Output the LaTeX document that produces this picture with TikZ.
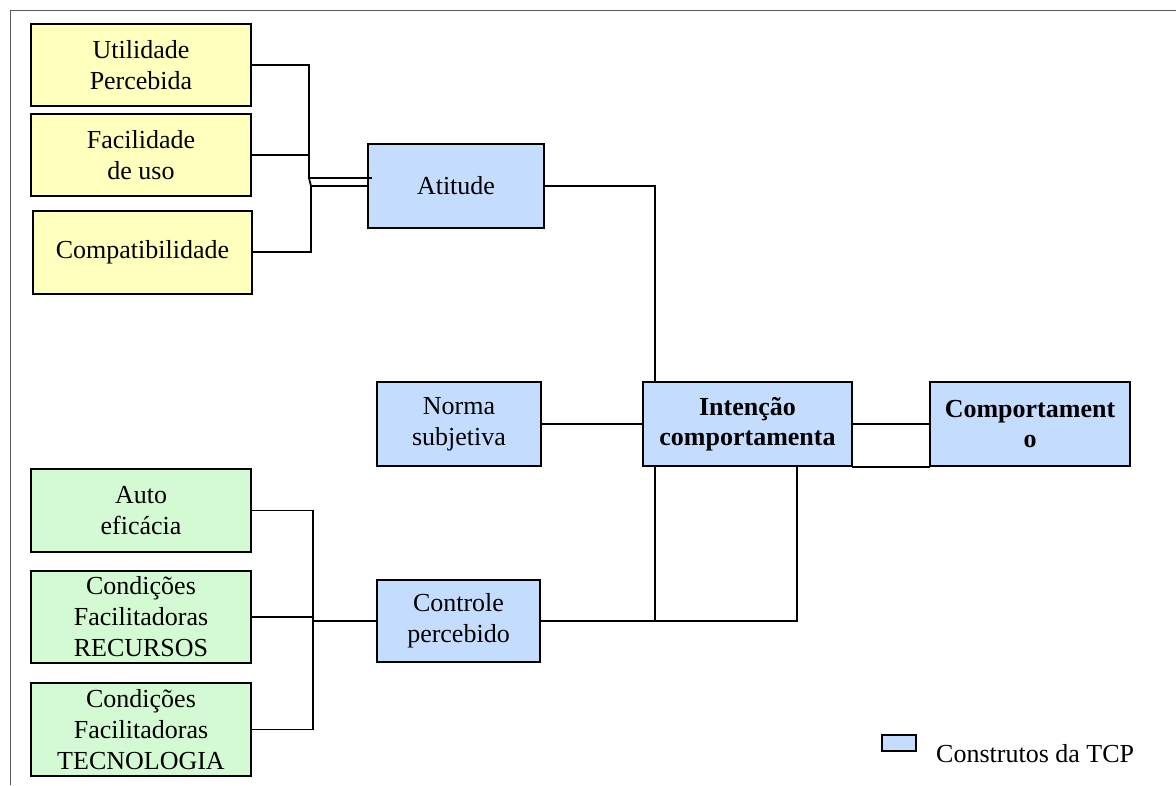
\documentclass[tikz,border=0pt]{standalone}
\usepackage{fontspec}
\setmainfont{Liberation Serif}
\definecolor{yel}{RGB}{255,255,190}
\definecolor{blu}{RGB}{196,221,255}
\definecolor{grn}{RGB}{212,250,212}
\begin{document}
\begin{tikzpicture}[x=1pt,y=-1pt,
  box/.style={draw=black, line width=2pt, align=center, inner sep=0pt,
    font=\fontsize{26}{31}\selectfont},
  ybox/.style={box, fill=yel},
  bbox/.style={box, fill=blu},
  gbox/.style={box, fill=grn},
  boldtxt/.style={font=\fontsize{26}{30}\selectfont\bfseries},
  conn/.style={line width=1.8pt, line cap=rect},
  frame/.style={draw=black!65, line width=1pt}]
\useasboundingbox (0,0) rectangle (1176,785);
% frame
\coordinate (f1) at (1176,10);
\coordinate (f2) at (10,10);
\coordinate (f3) at (10,785);
\draw[frame] (f1) -- (f2) -- (f3);
% upper-left group
\node[ybox, minimum width=220pt, minimum height=82pt] (U) at (141,65) {Utilidade\\Percebida};
\node[ybox, minimum width=220pt, minimum height=82pt] (F) at (141,155) {Facilidade\\de uso};
\node[ybox, minimum width=219pt, minimum height=83pt] (C) at (142.5,252) {Compatibilidade};
% TCP constructs
\node[bbox, minimum width=176pt, minimum height=84pt] (A) at (456,186) {Atitude};
\node[bbox, minimum width=164pt, minimum height=84pt] (N) at (459,424) {Norma\\subjetiva};
\node[bbox, boldtxt, minimum width=209pt, minimum height=84pt] (I) at (747.5,424) {Intenção\\comportamenta};
\node[bbox, boldtxt, minimum width=200pt, minimum height=84pt] (B) at (1030,424) {Comportament\\o};
\node[bbox, minimum width=163pt, minimum height=82pt] (P) at (458.5,621) {Controle\\percebido};
% lower-left group
\node[gbox, minimum width=220pt, minimum height=83pt] (E) at (141,510.5) {Auto\\eficácia};
\node[gbox, minimum width=220pt, minimum height=92pt] (R) at (141,617) {Condições\\Facilitadoras\\RECURSOS};
\node[gbox, minimum width=220pt, minimum height=93pt] (T) at (141,729.5) {Condições\\Facilitadoras\\TECNOLOGIA};
% legend
\node[draw=black, line width=1.6pt, fill=blu, minimum width=34pt, minimum height=16pt, inner sep=0pt] (L) at (899,743) {};
\node[anchor=base west, inner sep=0pt, font=\fontsize{26}{31}\selectfont] (LT) at (936,762) {Construtos da TCP};
% junctions
\coordinate (ja) at (309,178);
\coordinate (jb) at (311,186);
\coordinate (jc) at (313,621);
\coordinate (v1) at (655,0);
\coordinate (v2) at (797,0);
% connectors upper-left
\draw[conn] (U.east) -| (ja);
\draw[conn] (F.east) -- (F.east -| ja);
\draw[conn] (C.east) -| (jb);
\draw[conn] (ja) -- ([xshift=4pt]A.west |- ja);
\draw[conn] (ja) -- (jb) -- (A.west |- jb);
% connectors to intention
\draw[conn] (A.east) -| (I.north -| v1);
\draw[conn] (N.east) -- (I.west);
\draw[conn] (I.east) -- (B.west);
\draw[conn] (P.east) -| (I.south -| v2);
\draw[conn] (I.south -| v1) -- (v1 |- P.east);
\draw[conn] (I.south east) -- (B.south west);
% connectors lower-left
\draw[conn] (E.east) -| (T.east -| jc) -- (T.east);
\draw[conn] (R.east) -- (R.east -| jc);
\draw[conn] (jc) -- (P.west);
\end{tikzpicture}
\end{document}
